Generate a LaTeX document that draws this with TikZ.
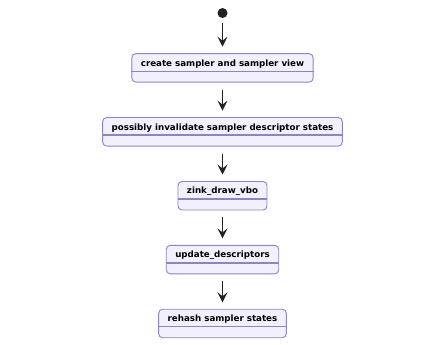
\documentclass[tikz,border=0pt]{standalone}
\usepackage{fontspec}
\setsansfont{DejaVu Sans}
\usetikzlibrary{positioning,arrows.meta}

\definecolor{statefill}{RGB}{241,240,252}
\definecolor{stateline}{RGB}{142,132,194}
\definecolor{flowline}{RGB}{34,34,34}

\tikzset{
  statebox/.style={draw=stateline, fill=statefill, rounded corners=4pt, line width=0.9pt,
    font=\sffamily\bfseries\fontsize{8.7}{10}\selectfont,
    inner xsep=9pt, inner ysep=0pt, text height=12.5pt, text depth=16pt},
  flowarrow/.style={draw=flowline, line width=1pt,
    -{Stealth[length=10pt,width=10pt,inset=4pt]}, shorten <=7pt, shorten >=6.5pt},
  divider/.style={draw=stateline, line width=1.3pt},
}

\begin{document}
\begin{tikzpicture}[x=1pt,y=1pt,node distance=34.5pt]
  \useasboundingbox (0,0) rectangle (445,-345);

  \node[circle, fill=flowline, minimum size=10pt, inner sep=0pt] (start) at (222.5,-13) {};

  \node[statebox, below=35pt of start] (create) {create sampler and sampler view};
  \node[statebox, below=of create] (invalidate) {possibly invalidate sampler descriptor states};
  \node[statebox, below=of invalidate] (vbo) {zink\_draw\_vbo};
  \node[statebox, below=of vbo] (update) {update\_descriptors};
  \node[statebox, below=of update] (rehash) {rehash sampler states};

  % line under each state name
  \draw[divider] ([yshift=-18pt]create.north west) -- ([yshift=-18pt]create.north east);
  \draw[divider] ([yshift=-18pt]invalidate.north west) -- ([yshift=-18pt]invalidate.north east);
  \draw[divider] ([yshift=-18pt]vbo.north west) -- ([yshift=-18pt]vbo.north east);
  \draw[divider] ([yshift=-18pt]update.north west) -- ([yshift=-18pt]update.north east);
  \draw[divider] ([yshift=-18pt]rehash.north west) -- ([yshift=-18pt]rehash.north east);

  \draw[flowarrow, shorten <=5pt] (start) -- (create);
  \draw[flowarrow] (create) -- (invalidate);
  \draw[flowarrow] (invalidate) -- (vbo);
  \draw[flowarrow] (vbo) -- (update);
  \draw[flowarrow] (update) -- (rehash);
\end{tikzpicture}
\end{document}
